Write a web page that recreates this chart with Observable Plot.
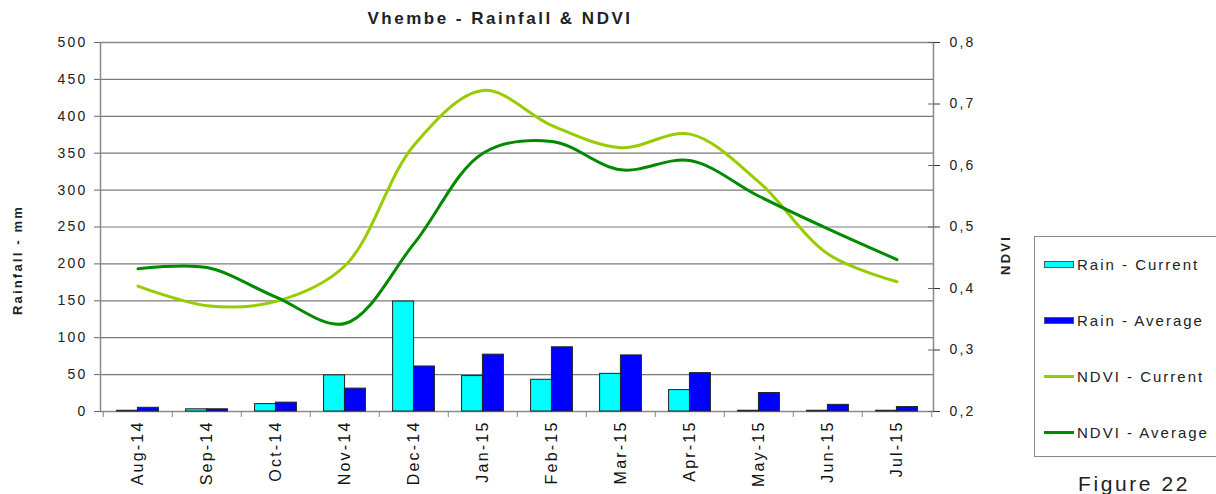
<!DOCTYPE html>
<html>
<head>
<meta charset="utf-8">
<script src="https://cdn.jsdelivr.net/npm/d3@7"></script>
<script src="https://cdn.jsdelivr.net/npm/@observablehq/plot@0.6"></script>
<style>
  html, body { margin: 0; padding: 0; background: #fff; }
  #wrap { position: relative; width: 1216px; height: 494px; overflow: hidden; font-family: 'Liberation Sans', Arial, sans-serif; color: #222; }
  #title { position: absolute; left: 250px; width: 500px; top: 9px; text-align: center; font-weight: bold; font-size: 17px; line-height: 20px; letter-spacing: 2.5px; }
  #chart { position: absolute; left: 0; top: 0; }
  #legend { position: absolute; left: 1034px; top: 236px; width: 200px; height: 219px; border: 1px solid #888; background: #fff; }
  .row { position: absolute; left: 9px; height: 20px; display: flex; align-items: center; font-size: 15px; letter-spacing: 2px; white-space: nowrap; }
  .sw { width: 30px; margin-right: 3px; box-sizing: border-box; }
  #fig { position: absolute; left: 1078px; top: 472px; font-size: 21px; line-height: 24px; letter-spacing: 2.6px; color: #222; }
</style>
</head>
<body>
<div id="wrap">
  <div id="chart"></div>
  <div id="title"></div>
  <div id="legend"></div>
  <div id="fig">Figure 22</div>
</div>
<script>
const titleText = "Vhembe - Rainfall & NDVI";
const months = ["Aug-14","Sep-14","Oct-14","Nov-14","Dec-14","Jan-15","Feb-15","Mar-15","Apr-15","May-15","Jun-15","Jul-15"];
const rainCurrent = [1, 3, 10, 49, 149, 48, 43, 51, 29, 1, 1, 1];
const rainAverage = [5, 3, 12, 31, 61, 77, 87, 76, 52, 25, 9, 6];
const ndviCurrent = [0.404, 0.372, 0.379, 0.437, 0.633, 0.722, 0.665, 0.629, 0.651, 0.573, 0.456, 0.411];
const ndviAverage = [0.432, 0.434, 0.386, 0.343, 0.473, 0.620, 0.639, 0.593, 0.608, 0.550, 0.497, 0.447];
const rainTicks = [0, 50, 100, 150, 200, 250, 300, 350, 400, 450, 500];
const ndviTicks = [0.2, 0.3, 0.4, 0.5, 0.6, 0.7, 0.8];
const seriesNames = ["Rain - Current", "Rain - Average", "NDVI - Current", "NDVI - Average"];
const colors = ["#00FFFF", "#0000FF", "#99CC00", "#008A00"];
const yLeftLabel = "Rainfall - mm";
const yRightLabel = "NDVI";

document.getElementById("title").textContent = titleText;

const W = 1216, H = 494, mL = 100, mR = 283, mT = 42, mB = 83;
const step = (W - mL - mR) / months.length;
const n2r = d3.scaleLinear([0.2, 0.8], [0, 500]);

const bars = months.map((m, i) => ({m, cur: rainCurrent[i], avg: rainAverage[i]}));
const lines = [
  ...months.map((m, i) => ({m, s: seriesNames[2], v: n2r(ndviCurrent[i])})),
  ...months.map((m, i) => ({m, s: seriesNames[3], v: n2r(ndviAverage[i])}))
];

const chart = Plot.plot({
  width: W, height: H,
  marginLeft: mL, marginRight: mR, marginTop: mT, marginBottom: mB,
  style: {fontFamily: "'Liberation Sans', Arial, sans-serif", fontSize: "14px", color: "#222", background: "transparent", letterSpacing: "2.2px"},
  x: {domain: months, paddingInner: 0.70, paddingOuter: 0.35, axis: null},
  y: {domain: [0, 500], axis: null},
  color: {domain: seriesNames, range: colors},
  marks: [
    Plot.gridY(rainTicks, {stroke: "#7a7a7a", strokeOpacity: 1, strokeWidth: 1.2}),
    Plot.frame({stroke: "#8a8a8a", strokeWidth: 1.5}),
    Plot.barY(bars, {x: "m", y: "cur", fill: colors[0], stroke: "#222", strokeWidth: 1, dx: -step * 0.15}),
    Plot.barY(bars, {x: "m", y: "avg", fill: colors[1], stroke: "#222", strokeWidth: 1, dx: step * 0.15}),
    Plot.line(lines, {x: "m", y: "v", z: "s", stroke: "s", strokeWidth: 3, curve: "catmull-rom"}),
    Plot.axisY(rainTicks, {anchor: "left", tickSize: 6, tickPadding: 7, fontSize: 14, stroke: "#666", fill: "#222", label: null}),
    Plot.axisY(ndviTicks.map(n2r), {anchor: "right", tickSize: 6, tickPadding: 10, fontSize: 14, stroke: "#333", fill: "#222", label: null,
      tickFormat: v => d3.format(".1f")(n2r.invert(v)).replace(".", ",")}),
    Plot.axisY(ndviTicks.map(n2r), {anchor: "right", tickSize: 6, dx: -6, stroke: "#666", label: null, tickFormat: () => ""}),
    Plot.axisX({anchor: "bottom", tickSize: 0, tickPadding: 9, tickRotate: -90, fontSize: 16, fill: "#111", label: null}),
    Plot.axisX({anchor: "bottom", tickSize: 6, dx: -step / 2, stroke: "#888", label: null, tickFormat: () => ""}),
    Plot.axisX([months[months.length - 1]], {anchor: "bottom", tickSize: 6, dx: step / 2, stroke: "#888", label: null, tickFormat: () => ""}),
    Plot.text([yLeftLabel], {frameAnchor: "left", textAnchor: "middle", text: d => d, rotate: -90, dx: -83, dy: 33, fontWeight: "bold", fontSize: 13, fill: "#222"}),
    Plot.text([yRightLabel], {frameAnchor: "right", textAnchor: "middle", text: d => d, rotate: -90, dx: 72, dy: 28, fontWeight: "bold", fontSize: 13, fill: "#222"})
  ]
});
document.getElementById("chart").appendChild(chart);

const legend = document.getElementById("legend");
const rowTops = [17, 73, 129, 185];
seriesNames.forEach((name, i) => {
  const row = document.createElement("div");
  row.className = "row";
  row.style.top = rowTops[i] + "px";
  const sw = document.createElement("div");
  sw.className = "sw";
  if (i < 2) {
    sw.style.height = "7px";
    sw.style.background = colors[i];
    sw.style.border = "1px solid #555";
  } else {
    sw.style.height = "3px";
    sw.style.background = colors[i];
  }
  const t = document.createElement("span");
  t.textContent = name;
  row.appendChild(sw);
  row.appendChild(t);
  legend.appendChild(row);
});
</script>
</body>
</html>
